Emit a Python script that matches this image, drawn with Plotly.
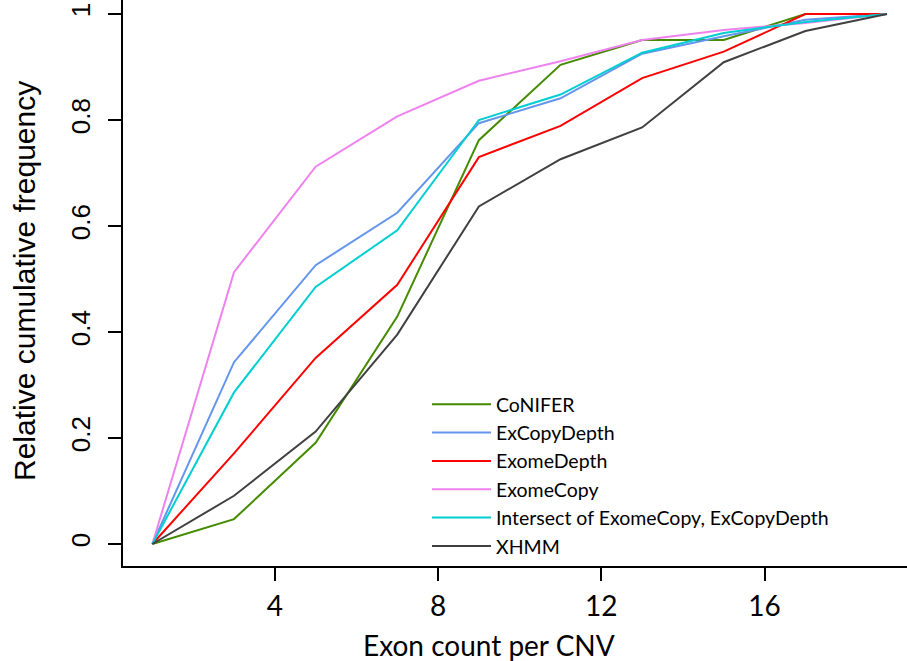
import plotly.graph_objects as go

exon_count = [1, 3, 5, 7, 9, 11, 13, 15, 17, 19]
conifer = [0, 0.047, 0.191, 0.429, 0.762, 0.904, 0.951, 0.951, 1.0, 1.0]
excopydepth = [0, 0.343, 0.526, 0.625, 0.794, 0.841, 0.925, 0.958, 0.989, 1.0]
exomedepth = [0, 0.171, 0.351, 0.489, 0.730, 0.789, 0.879, 0.929, 1.0, 1.0]
exomecopy = [0, 0.513, 0.712, 0.807, 0.874, 0.911, 0.951, 0.970, 0.983, 1.0]
intersect = [0, 0.286, 0.485, 0.592, 0.800, 0.848, 0.927, 0.964, 0.985, 1.0]
xhmm = [0, 0.091, 0.212, 0.395, 0.637, 0.726, 0.786, 0.909, 0.968, 1.0]

series_names = ["CoNIFER", "ExCopyDepth", "ExomeDepth", "ExomeCopy",
                "Intersect of ExomeCopy, ExCopyDepth", "XHMM"]
series_values = [conifer, excopydepth, exomedepth, exomecopy, intersect, xhmm]
series_colors = ["#458B00", "#6495ED", "#FF0000", "#EE82EE", "#00CED1", "#404040"]

x_ticks = [4, 8, 12, 16]
y_ticks = [0, 0.2, 0.4, 0.6, 0.8, 1]
y_tick_labels = ["0", "0.2", "0.4", "0.6", "0.8", "1"]

fig = go.Figure()
for name, vals, col in zip(series_names, series_values, series_colors):
    fig.add_trace(go.Scatter(x=exon_count, y=vals, mode="lines", name=name,
                             line=dict(color=col, width=2)))

W, H = 907, 661
L, R, T, B = 123, 0, 0, 95
pw, ph = W - L - R, H - T - B

def px_x(p):
    return (p - L) / pw

def px_y(p):
    return (H - B - p) / ph

fig.update_layout(
    width=W, height=H,
    margin=dict(l=L, r=R, t=T, b=B, autoexpand=False),
    plot_bgcolor="white", paper_bgcolor="white",
    showlegend=True,
    legend=dict(x=px_x(427), y=px_y(385), xanchor="left", yanchor="top",
                bgcolor="rgba(0,0,0,0)", itemwidth=59,
                font=dict(family="Lato", size=19.5, color="black")),
    xaxis=dict(range=[0.28, 19.49], tickvals=x_ticks, ticks="outside", ticklen=13,
               tickwidth=2, tickcolor="black", showline=True, linewidth=2,
               linecolor="black", showgrid=False, zeroline=False, automargin=False,
               tickfont=dict(family="Lato", size=28, color="black"),
               ticklabelstandoff=1),
    yaxis=dict(range=[-0.0415, 1.0264], tickvals=y_ticks, ticktext=y_tick_labels,
               tickangle=-90, ticks="outside", ticklen=13, tickwidth=2,
               tickcolor="black", showline=True, linewidth=2, linecolor="black",
               showgrid=False, zeroline=False, automargin=False,
               ticklabeloverflow="allow",
               tickfont=dict(family="Liberation Sans", size=26, color="black"),
               ticklabelstandoff=8),
    annotations=[
        dict(text="Exon count per CNV", x=px_x(489), y=px_y(645), xref="paper",
             yref="paper", xanchor="center", yanchor="middle", showarrow=False,
             font=dict(family="Lato", size=28, color="black")),
        dict(text="Relative cumulative frequency", x=px_x(24), y=px_y(281),
             xref="paper", yref="paper", xanchor="center", yanchor="middle",
             textangle=-90, showarrow=False,
             font=dict(family="Liberation Sans", size=30, color="black")),
    ],
)

fig.write_html("out.html", config={"displayModeBar": False},
               post_script="document.body.style.margin='0';document.body.style.overflow='hidden';")
